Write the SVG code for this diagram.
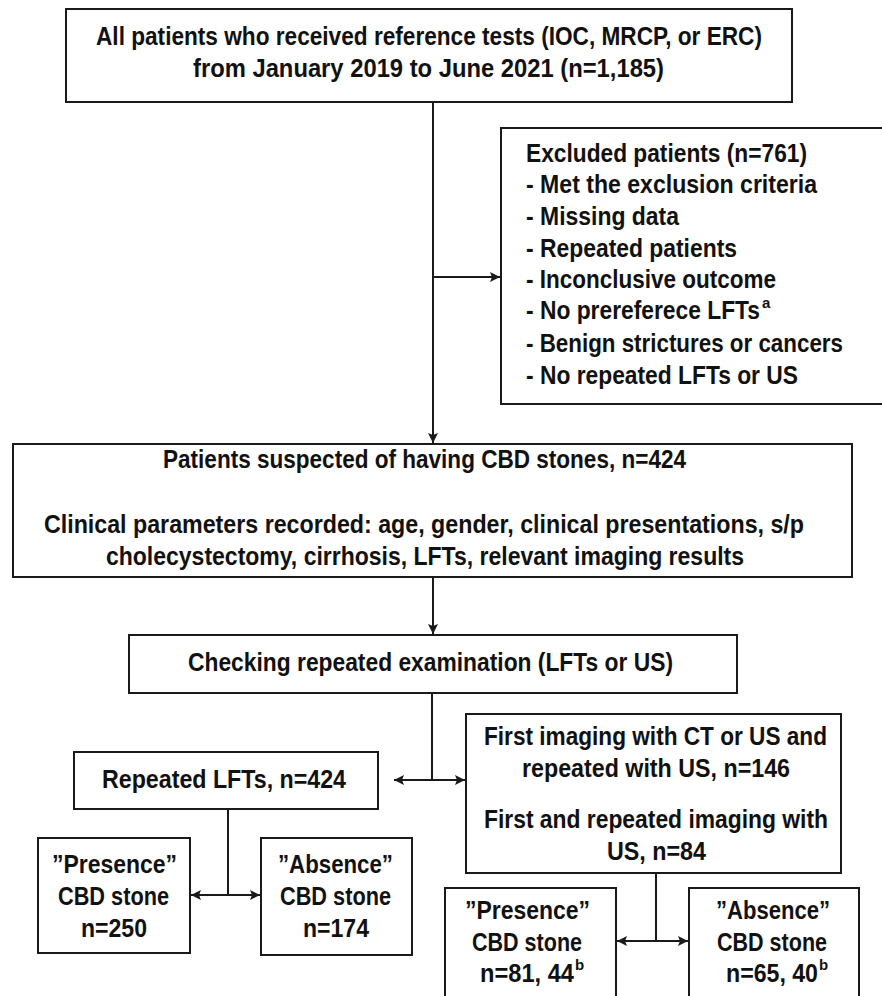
<svg xmlns="http://www.w3.org/2000/svg" width="882" height="996" viewBox="0 0 882 996">
<style>
.box{fill:#fff;stroke:#1a1a1a;stroke-width:2}
.t{font-family:"Liberation Sans",Arial,sans-serif;font-weight:bold;font-size:25px;fill:#111}
.sup{font-family:"Liberation Sans",Arial,sans-serif;font-weight:bold;font-size:15px;fill:#111}
.c{fill:none;stroke:#1a1a1a;stroke-width:2}
</style>
<defs>
<marker id="ah" viewBox="0 0 10 10" refX="10" refY="5" markerWidth="5.5" markerHeight="5" orient="auto-start-reverse" markerUnits="strokeWidth">
<path d="M0,0 L10,5 L0,10 L2,5 Z" fill="#1a1a1a"/>
</marker>
</defs>
<rect width="882" height="996" fill="#fff"/>

<g id="connectors">
<path class="c" d="M433,102 V443" marker-end="url(#ah)"/>
<path class="c" d="M433,277 H500" marker-end="url(#ah)"/>
<path class="c" d="M433,577 V634" marker-end="url(#ah)"/>
<path class="c" d="M432,693 V780"/>
<path class="c" d="M394,780 H465" marker-start="url(#ah)" marker-end="url(#ah)"/>
<path class="c" d="M228,809 V895"/>
<path class="c" d="M191,895 H260" marker-start="url(#ah)" marker-end="url(#ah)"/>
<path class="c" d="M656,873 V941"/>
<path class="c" d="M617,941 H688" marker-start="url(#ah)" marker-end="url(#ah)"/>
</g>

<g id="all-patients">
<rect class="box" x="66" y="9" width="726" height="93"/>
<text class="t" x="96" y="45" textLength="666" lengthAdjust="spacingAndGlyphs">All patients who received reference tests (IOC, MRCP, or ERC)</text>
<text class="t" x="193" y="77" textLength="471" lengthAdjust="spacingAndGlyphs">from January 2019 to June 2021 (n=1,185)</text>
</g>

<g id="excluded">
<rect class="box" x="501" y="128" width="395" height="276"/>
<text class="t" x="526" y="162" textLength="281" lengthAdjust="spacingAndGlyphs">Excluded patients (n=761)</text>
<text class="t" x="526" y="193" textLength="291" lengthAdjust="spacingAndGlyphs">- Met the exclusion criteria</text>
<text class="t" x="526" y="225" textLength="153" lengthAdjust="spacingAndGlyphs">- Missing data</text>
<text class="t" x="526" y="257" textLength="211" lengthAdjust="spacingAndGlyphs">- Repeated patients</text>
<text class="t" x="526" y="288" textLength="250" lengthAdjust="spacingAndGlyphs">- Inconclusive outcome</text>
<text class="t" x="526" y="319" textLength="234" lengthAdjust="spacingAndGlyphs">- No prereferece LFTs</text>
<text class="sup" x="762" y="308">a</text>
<text class="t" x="526" y="352" textLength="317" lengthAdjust="spacingAndGlyphs">- Benign strictures or cancers</text>
<text class="t" x="526" y="384" textLength="272" lengthAdjust="spacingAndGlyphs">- No repeated LFTs or US</text>
</g>

<g id="suspected">
<rect class="box" x="13" y="444" width="839" height="133"/>
<text class="t" x="163" y="468" textLength="523" lengthAdjust="spacingAndGlyphs">Patients suspected of having CBD stones, n=424</text>
<text class="t" x="44" y="533" textLength="760" lengthAdjust="spacingAndGlyphs">Clinical parameters recorded: age, gender, clinical presentations, s/p</text>
<text class="t" x="106" y="565" textLength="638" lengthAdjust="spacingAndGlyphs">cholecystectomy, cirrhosis, LFTs, relevant imaging results</text>
</g>

<g id="checking">
<rect class="box" x="129" y="635" width="608" height="58"/>
<text class="t" x="188" y="671" textLength="485" lengthAdjust="spacingAndGlyphs">Checking repeated examination (LFTs or US)</text>
</g>

<g id="repeated-lfts">
<rect class="box" x="74" y="752" width="304" height="57"/>
<text class="t" x="102" y="788" textLength="244" lengthAdjust="spacingAndGlyphs">Repeated LFTs, n=424</text>
</g>

<g id="imaging">
<rect class="box" x="466" y="714" width="375" height="159"/>
<text class="t" x="484" y="745" textLength="343" lengthAdjust="spacingAndGlyphs">First imaging with CT or US and</text>
<text class="t" x="522" y="777" textLength="268" lengthAdjust="spacingAndGlyphs">repeated with US, n=146</text>
<text class="t" x="484" y="828" textLength="344" lengthAdjust="spacingAndGlyphs">First and repeated imaging with</text>
<text class="t" x="607" y="860" textLength="99" lengthAdjust="spacingAndGlyphs">US, n=84</text>
</g>

<g id="presence-lfts">
<rect class="box" x="38" y="838" width="152" height="115"/>
<text class="t" x="52" y="873" textLength="125" lengthAdjust="spacingAndGlyphs">”Presence”</text>
<text class="t" x="58" y="905" textLength="111" lengthAdjust="spacingAndGlyphs">CBD stone</text>
<text class="t" x="81" y="937" textLength="66" lengthAdjust="spacingAndGlyphs">n=250</text>
</g>

<g id="absence-lfts">
<rect class="box" x="261" y="838" width="151" height="117"/>
<text class="t" x="278" y="873" textLength="115" lengthAdjust="spacingAndGlyphs">”Absence”</text>
<text class="t" x="280" y="905" textLength="111" lengthAdjust="spacingAndGlyphs">CBD stone</text>
<text class="t" x="303" y="937" textLength="66" lengthAdjust="spacingAndGlyphs">n=174</text>
</g>

<g id="presence-us">
<rect class="box" x="445" y="888" width="171" height="120"/>
<text class="t" x="465" y="919" textLength="125" lengthAdjust="spacingAndGlyphs">”Presence”</text>
<text class="t" x="472" y="951" textLength="110" lengthAdjust="spacingAndGlyphs">CBD stone</text>
<text class="t" x="480" y="982" textLength="94" lengthAdjust="spacingAndGlyphs">n=81, 44</text>
<text class="sup" x="575" y="970">b</text>
</g>

<g id="absence-us">
<rect class="box" x="689" y="888" width="170" height="120"/>
<text class="t" x="716" y="919" textLength="114" lengthAdjust="spacingAndGlyphs">”Absence”</text>
<text class="t" x="717" y="951" textLength="110" lengthAdjust="spacingAndGlyphs">CBD stone</text>
<text class="t" x="726" y="982" textLength="92" lengthAdjust="spacingAndGlyphs">n=65, 40</text>
<text class="sup" x="819" y="970">b</text>
</g>
</svg>
